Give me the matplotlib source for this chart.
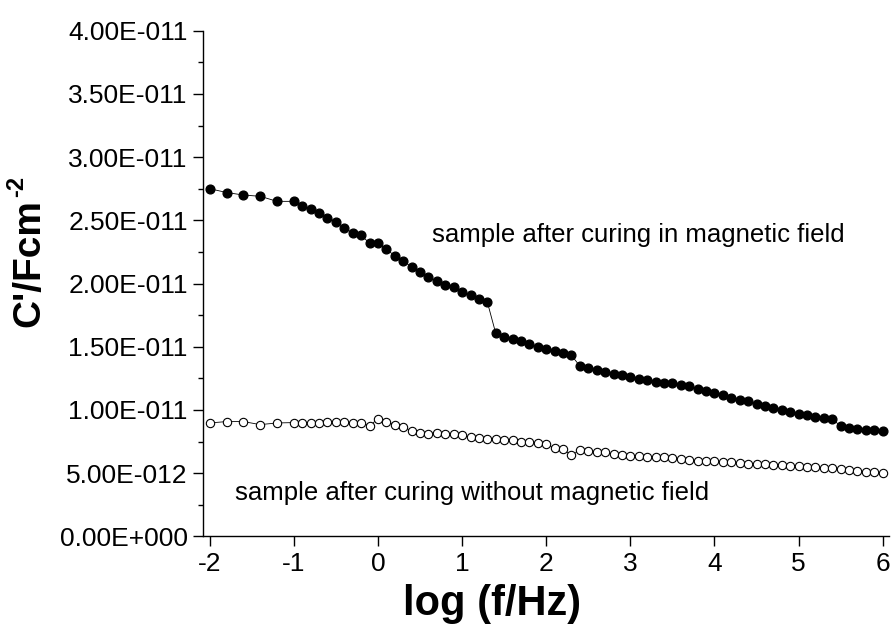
import numpy as np
import matplotlib
matplotlib.use("Agg")
import matplotlib.pyplot as plt
from matplotlib.ticker import FuncFormatter, FixedLocator

plt.rcParams['font.family'] = ['Liberation Sans', 'DejaVu Sans']
plt.rcParams['axes.unicode_minus'] = False

# --- data (C' in units of 1e-11 F/cm2) ---
log_f = [-2.0, -1.8, -1.6, -1.4, -1.2, -1.0, -0.9, -0.8, -0.7, -0.6, -0.5, -0.4,
         -0.3, -0.2, -0.1, 0.0, 0.1, 0.2, 0.3, 0.4, 0.5, 0.6, 0.7, 0.8, 0.9, 1.0,
         1.1, 1.2, 1.3, 1.4, 1.5, 1.6, 1.7, 1.8, 1.9, 2.0, 2.1, 2.2, 2.3, 2.4,
         2.5, 2.6, 2.7, 2.8, 2.9, 3.0, 3.1, 3.2, 3.3, 3.4, 3.5, 3.6, 3.7, 3.8,
         3.9, 4.0, 4.1, 4.2, 4.3, 4.4, 4.5, 4.6, 4.7, 4.8, 4.9, 5.0, 5.1, 5.2,
         5.3, 5.4, 5.5, 5.6, 5.7, 5.8, 5.9, 6.0]

c_with_field = [2.75, 2.72, 2.70, 2.69, 2.65, 2.65, 2.61, 2.59, 2.56, 2.52, 2.49, 2.44,
                2.40, 2.38, 2.32, 2.32, 2.27, 2.22, 2.18, 2.13, 2.09, 2.05, 2.02, 1.99,
                1.97, 1.935, 1.91, 1.877, 1.854, 1.606, 1.579, 1.558, 1.545, 1.521, 1.50,
                1.484, 1.468, 1.452, 1.432, 1.347, 1.331, 1.318, 1.302, 1.287, 1.274,
                1.26, 1.247, 1.237, 1.223, 1.21, 1.213, 1.20, 1.186, 1.165, 1.15, 1.134,
                1.118, 1.097, 1.081, 1.068, 1.047, 1.028, 1.013, 0.999, 0.983, 0.970,
                0.957, 0.944, 0.933, 0.925, 0.875, 0.859, 0.851, 0.843, 0.841, 0.831]

c_without_field = [0.897, 0.908, 0.908, 0.884, 0.897, 0.90, 0.90, 0.897, 0.897, 0.902,
                   0.905, 0.905, 0.897, 0.897, 0.876, 0.929, 0.908, 0.884, 0.868, 0.831,
                   0.821, 0.813, 0.821, 0.81, 0.807, 0.799, 0.783, 0.780, 0.772, 0.767,
                   0.762, 0.762, 0.746, 0.744, 0.736, 0.730, 0.696, 0.691, 0.641, 0.683,
                   0.675, 0.670, 0.665, 0.649, 0.643, 0.638, 0.633, 0.630, 0.627, 0.630,
                   0.617, 0.612, 0.605, 0.598, 0.594, 0.593, 0.588, 0.585, 0.583, 0.575,
                   0.572, 0.570, 0.567, 0.562, 0.559, 0.556, 0.551, 0.546, 0.541, 0.538,
                   0.533, 0.527, 0.520, 0.509, 0.506, 0.504]

x_ticks = [-2, -1, 0, 1, 2, 3, 4, 5, 6]
y_ticks = [0.0, 0.5, 1.0, 1.5, 2.0, 2.5, 3.0, 3.5, 4.0]
y_minor = [0.25, 0.75, 1.25, 1.75, 2.25, 2.75, 3.25, 3.75]

label_with = "sample after curing in magnetic field"
label_without = "sample after curing without magnetic field"

scale = 1e-11
x = np.array(log_f)
y1 = np.array(c_with_field) * scale
y2 = np.array(c_without_field) * scale


def origin_sci(v, pos):
    # Origin style: 4.00E-011
    if v == 0:
        return "0.00E+000"
    exp = int(np.floor(np.log10(abs(v)) + 1e-9))
    mant = v / 10 ** exp
    sign = "-" if exp < 0 else "+"
    return f"{mant:.2f}E{sign}{abs(exp):03d}"


fig = plt.figure(figsize=(8.95, 6.34), dpi=100)
ax = fig.add_axes([0.2268, 0.154, 0.767, 0.7976])

ax.plot(x, y1, color='black', lw=0.6, marker='o', ms=6.3, mfc='black', mec='black')
ax.plot(x, y2, color='black', lw=0.6, marker='o', ms=6.0, mfc='white', mec='black', mew=0.8)

ax.text(0.64, 2.38 * scale, label_with, fontsize=18.5, va='center', ha='left')
ax.text(-1.70, 0.34 * scale, label_without, fontsize=18.5, va='center', ha='left')

ax.set_xlim(-2.08, 6.08)
ax.set_ylim(0, 4e-11)
ax.xaxis.set_major_locator(FixedLocator(x_ticks))
ax.yaxis.set_major_locator(FixedLocator(np.array(y_ticks) * scale))
ax.yaxis.set_minor_locator(FixedLocator(np.array(y_minor) * scale))
ax.yaxis.set_major_formatter(FuncFormatter(origin_sci))

for side in ['top', 'right']:
    ax.spines[side].set_visible(False)
for side in ['left', 'bottom']:
    ax.spines[side].set_linewidth(1.0)

ax.tick_params(which='major', direction='out', length=7, width=1.0, labelsize=19, pad=4)
ax.tick_params(which='minor', direction='out', length=3.6, width=1.0)

ax.set_xlabel("log (f/Hz)", fontsize=30, fontweight='bold')
ax.xaxis.set_label_coords((492 - 203) / 686, -0.095)
ax.set_ylabel("C'/Fcm", fontsize=28, fontweight='bold')
ax.yaxis.set_label_coords(-0.227, 0.54)

# superscript -2 placed just past the end of the rotated y label
fig.canvas.draw()
bb = ax.yaxis.label.get_window_extent()
sx, sy = fig.transFigure.inverted().transform((bb.x0 - 6, bb.y1 + 2))
fig.text(sx, sy, "-2", fontsize=17, fontweight='bold', rotation=90,
         ha='left', va='bottom')

fig.savefig("out.png", dpi=100)
